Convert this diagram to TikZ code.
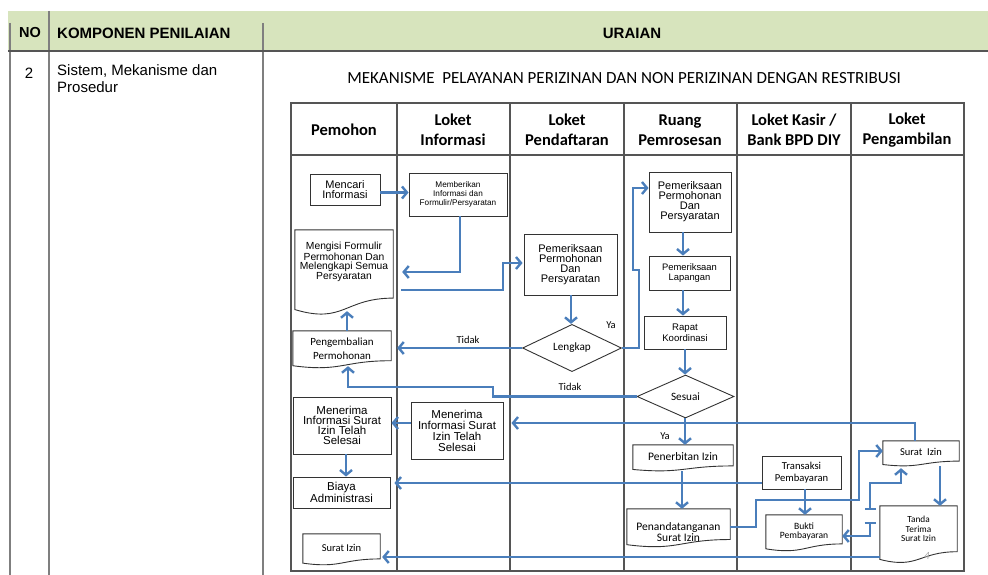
\documentclass[tikz,border=0pt]{standalone}
\usepackage{fontspec}
\setmainfont{Liberation Sans}
\newfontfamily\calib{Carlito}
\usetikzlibrary{arrows.meta,shapes.geometric,calc}
\definecolor{hdrgreen}{HTML}{D7E4BD}
\definecolor{flowblue}{HTML}{4A7EBB}
\definecolor{tblline}{HTML}{7F7F7F}
\definecolor{frameline}{HTML}{555555}
\definecolor{boxline}{HTML}{333333}
\newcommand\fs[2]{\fontsize{#1}{#2}\selectfont}
\newcommand\docoutline[1]{%
  \draw[boxln] let \p1=(#1.north west), \p2=(#1.south east), \n1={\x2-\x1}, \n2={\y1-\y2} in
   (\p1) -- (\x2,\y1) -- (\x2,{\y1-0.80*\n2}) .. controls ({\x1+0.5*\n1},{\y1-0.80*\n2}) and ({\x1+0.5*\n1},{\y1-1.107*\n2}) .. (\x1,{\y1-0.934*\n2}) -- cycle;}
\tikzset{
  boxln/.style={draw=boxline, line width=0.9pt},
  abox/.style={boxln, rectangle, inner sep=0pt, align=center},
  docn/.style={rectangle, inner sep=0pt},
  dia/.style={boxln, diamond, inner sep=0pt, align=center, font=\calib\fs{11.2}{13}},
  txt/.style={inner sep=0pt, align=center},
  lanehead/.style={txt, font=\calib\bfseries\fs{16.5}{20}},
  arr/.style={draw=flowblue, line width=2.4pt, line join=miter, -{Straight Barb[length=5pt,width=12pt]}},
  barstart/.style={{Bar[width=11pt]}-{Straight Barb[length=5pt,width=12pt]}},
  lbl/.style={inner sep=0pt, font=\calib\fs{10.5}{12}},
}
\begin{document}
\begin{tikzpicture}[x=1pt,y=-1pt]
\useasboundingbox (0,0) rectangle (988,575);
% ---- outer table ----
\fill[hdrgreen] (8,11) rectangle (988,51);
\draw[tblline, line width=1.5pt] (10,23) -- (10,575);
\draw[tblline, line width=1.5pt] (49,11) -- (49,575);
\draw[tblline, line width=1.5pt] (263,23) -- (263,575);
\draw[frameline, line width=2pt] (8,51) -- (988,51);
\node[txt, font=\bfseries\fs{14.5}{17}] (hno) at (30,33) {NO};
\node[txt, font=\bfseries\fs{15}{17}, anchor=west] (hkomp) at (57,33) {KOMPONEN PENILAIAN};
\node[txt, font=\bfseries\fs{15}{17}] (hurai) at (632,33) {URAIAN};
\node[txt, font=\fs{15}{17}] (rno) at (29,73) {2};
\node[txt, font=\fs{15}{17}, anchor=north west, align=left] (rkomp) at (57,64) {Sistem, Mekanisme dan\\Prosedur};
\node[txt, font=\calib\fs{17}{20}] (title) at (624,78) {MEKANISME\ \ PELAYANAN PERIZINAN DAN NON PERIZINAN DENGAN RESTRIBUSI};
% ---- swimlane frame ----
\draw[frameline, line width=1.3pt] (291,103) rectangle (964,571);
\draw[frameline, line width=1.3pt] (291,155) -- (964,155);
\foreach \cx in {397,510,624,737,851} \draw[frameline, line width=1.3pt] (\cx,103) -- (\cx,571);
\node[lanehead] (l1) at (344,130) {Pemohon};
\node[lanehead] (l2) at (453,130) {Loket\\Informasi};
\node[lanehead] (l3) at (567,130) {Loket\\Pendaftaran};
\node[lanehead] (l4) at (680,130) {Ruang\\Pemrosesan};
\node[lanehead] (l5) at (794,130) {Loket Kasir /\\Bank BPD DIY};
\node[lanehead] (l6) at (907,130) {Loket\\Pengambilan};
% ---- boxes ----
\node[abox, minimum width=70pt, minimum height=31pt, font=\fs{11}{10}] (mencari) at (345,189.5) {Mencari\\Informasi};
\node[abox, minimum width=98pt, minimum height=43pt, font=\fs{8.2}{9.3}] (memberi) at (458,194.5) {Memberikan\\Informasi dan\\Formulir/Persyaratan};
\node[docn, minimum width=98pt, minimum height=85pt] (mengisi) at (344,272.5) {};
\docoutline{mengisi}
\node[txt, font=\fs{10.3}{9.2}] (mengisiT) at (344,262) {Mengisi Formulir\\Permohonan Dan\\Melengkapi Semua\\Persyaratan};
\node[abox, minimum width=93pt, minimum height=61pt, font=\fs{11}{10}] (pempend) at (570.5,264.5) {Pemeriksaan\\Permohonan\\Dan\\Persyaratan};
\node[dia, minimum width=99pt, minimum height=44pt] (lengkap) at (572,348) {Lengkap};
\node[docn, minimum width=98pt, minimum height=37pt] (pengemb) at (342,349.5) {};
\docoutline{pengemb}
\node[txt, font=\calib\fs{11}{14}] (pengembT) at (342,349) {Pengembalian\\Permohonan};
\node[abox, minimum width=82pt, minimum height=60pt, font=\fs{11}{10}] (pemruang) at (690,202) {Pemeriksaan\\Permohonan\\Dan\\Persyaratan};
\node[abox, minimum width=81pt, minimum height=34pt, font=\fs{9.4}{10.5}] (lapangan) at (689.5,273) {Pemeriksaan\\Lapangan};
\node[abox, minimum width=82pt, minimum height=33pt, font=\fs{9.6}{11}] (rapat) at (685,332.5) {Rapat\\Koordinasi};
\node[dia, minimum width=97pt, minimum height=43pt] (sesuai) at (685.5,396.5) {Sesuai};
\node[abox, minimum width=98pt, minimum height=57pt, font=\fs{11.5}{10}] (meneriP) at (342,425.5) {Menerima\\Informasi Surat\\Izin Telah\\Selesai};
\node[abox, minimum width=92pt, minimum height=57pt, font=\fs{11.5}{11}] (meneriI) at (457,430.5) {Menerima\\Informasi Surat\\Izin Telah\\Selesai};
\node[abox, minimum width=97pt, minimum height=31pt, font=\fs{11.5}{10.5}] (biaya) at (341.5,492.5) {Biaya\\Administrasi};
\node[docn, minimum width=77pt, minimum height=31pt] (suratP) at (341.5,549.5) {};
\docoutline{suratP}
\node[txt, font=\calib\fs{10.5}{12}] (suratPT) at (341.5,548) {Surat Izin};
\node[docn, minimum width=100pt, minimum height=26pt] (penerbit) at (683,458) {};
\docoutline{penerbit}
\node[txt, font=\calib\fs{11.5}{13}] (penerbitT) at (683,457) {Penerbitan Izin};
\node[docn, minimum width=103pt, minimum height=38pt] (penanda) at (678.5,528) {};
\docoutline{penanda}
\node[txt, font=\calib\fs{11.5}{11}] (penandaT) at (678.5,532) {Penandatanganan\\Surat Izin};
\node[abox, minimum width=79pt, minimum height=33pt, font=\calib\fs{10.6}{12}] (transaksi) at (801.5,472.5) {Transaksi\\Pembayaran};
\node[docn, minimum width=76pt, minimum height=36pt] (bukti) at (804,533) {};
\docoutline{bukti}
\node[txt, font=\calib\fs{9.6}{9.6}] (buktiT) at (804,531.5) {Bukti\\Pembayaran};
\node[docn, minimum width=76pt, minimum height=25pt] (suratA) at (921,453.5) {};
\docoutline{suratA}
\node[txt, font=\calib\fs{10.5}{12}] (suratAT) at (921,452) {Surat\ \ Izin};
\node[docn, minimum width=77pt, minimum height=57pt] (tanda) at (918.5,534.5) {};
\docoutline{tanda}
\node[txt, font=\calib\fs{9.3}{9.6}] (tandaT) at (918.5,529) {Tanda\\Terima\\Surat Izin};
\node[txt, font=\calib\itshape\fs{11}{12}, text=gray!70] (pgnum) at (927,556) {4};
% ---- connectors ----
\draw[arr] ([yshift=-3pt]mencari.east) -- ([yshift=-3pt]mencari.east -| memberi.west);
\draw[arr, shorten >=9pt] ([xshift=2pt]memberi.south) |- (mengisi.east |- 0,272);
\draw[arr, shorten <=8pt, shorten >=1pt] (mengisi.east |- 0,290) -| (503,263) -- (pempend.west |- 0,263);
\draw[arr] (pempend.south -| 571,0) -- (lengkap.north -| 571,0);
\draw[arr] (lengkap.east) -| (639,270) -| (633,188) -- (pemruang.west |- 0,188);
\node[lbl] (ya1) at (611,325) {Ya};
\draw[arr, shorten >=6pt] (lengkap.west) -- (pengemb.east |- lengkap.west);
\node[lbl] (tidak1) at (468,340) {Tidak};
\draw[arr] ([xshift=5pt]pengemb.north) -- ([xshift=3pt, yshift=4pt]mengisi.south);
\draw[arr] (pemruang.south -| 683,0) -- (lapangan.north -| 683,0);
\draw[arr] (lapangan.south -| 683,0) -- (rapat.north -| 683,0);
\draw[arr] (rapat.south -| 685,0) -- (sesuai.north -| 685,0);
\draw[arr] (sesuai.west) -| (493,387) -| ([xshift=6pt,yshift=2pt]pengemb.south);
\node[lbl] (tidak2) at (570,387) {Tidak};
\draw[arr, shorten >=8pt] ([xshift=-6pt]suratA.north) |- (meneriI.east |- 0,423);
\draw[arr] (sesuai.south -| 685,0) -- (penerbit.north -| 685,0);
\node[lbl] (ya2) at (665,436) {Ya};
\draw[arr] (meneriI.west |- 0,423) -- (meneriP.east |- 0,423);
\draw[arr] (meneriP.south -| 346,0) -- (biaya.north -| 346,0);
\draw[arr, shorten >=4pt] (transaksi.west |- 0,483) -- (biaya.east |- 0,483);
\draw[arr] (penerbit.south -| 682,0) -- (penanda.north -| 682,0);
\draw[arr] (penanda.east |- 0,527) -| (756,500) -| (859,451) -- (suratA.west |- 0,451);
\draw[arr] (transaksi.south -| 805,0) -- (bukti.north -| 805,0);
\coordinate (teeA) at (870,510);
\coordinate (teeB) at (870,522);
\draw[arr, barstart, shorten >=2pt] (teeA) |- (901,483) -- (suratA.south -| 901,0);
\draw[arr, barstart] (teeB) |- (bukti.east |- 0,536);
\draw[arr] (suratA.south -| 940,0) -- (tanda.north -| 940,0);
\draw[arr, shorten >=2pt] (tanda.west |- 0,557) -- (suratP.east |- 0,557);
\end{tikzpicture}
\end{document}
